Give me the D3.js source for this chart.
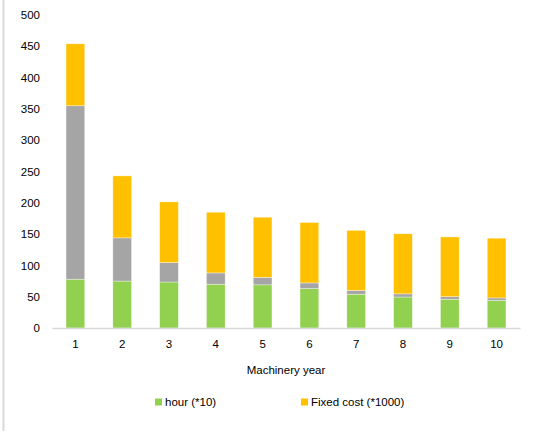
<!DOCTYPE html>
<html>
<head>
<meta charset="utf-8">
<script src="https://cdn.jsdelivr.net/npm/d3@7"></script>
<style>
  html, body { margin: 0; padding: 0; background: #fff; }
  svg { display: block; font-family: "Liberation Sans", Arial, sans-serif; }
</style>
</head>
<body>
<svg id="chart" width="547" height="434"></svg>
<script>
// Machinery cost breakdown by machine age
const years = ["1", "2", "3", "4", "5", "6", "7", "8", "9", "10"];
const hours = [78, 75, 73.5, 70, 69, 63, 54, 49.5, 46, 44];          // hour (*10)
const repair = [277, 69, 31, 18, 12, 9, 6, 5, 4, 4];                   // unlabelled middle series
const fixedCost = [99, 99, 97, 97, 96, 96.5, 96, 96, 95.5, 95.5];      // Fixed cost (*1000)
const yTicks = [0, 50, 100, 150, 200, 250, 300, 350, 400, 450, 500];

const seriesKeys = ["hours", "repair", "fixed"];
const colors = { hours: "#92d050", repair: "#a5a5a5", fixed: "#ffc000" };
const legendItems = [
  { key: "hours", label: "hour (*10)" },
  { key: "fixed", label: "Fixed cost (*1000)" }
];

const rows = years.map((y, i) => ({ year: y, hours: hours[i], repair: repair[i], fixed: fixedCost[i] }));
const stacked = d3.stack().keys(seriesKeys)(rows);

const svg = d3.select("#chart");
const margin = { left: 52, right: 27, top: 15, bottom: 106 };
const W = 547, H = 434;

const x = d3.scaleBand()
  .domain(years)
  .range([margin.left, W - margin.right])
  .paddingInner(0.6)
  .paddingOuter(0.3);

const y = d3.scaleLinear()
  .domain([0, 500])
  .range([H - margin.bottom, margin.top]);

// chart frame edge on the left
svg.append("line")
  .attr("x1", 3.5).attr("x2", 3.5)
  .attr("y1", 0).attr("y2", 431)
  .attr("stroke", "#d9d9d9").attr("stroke-width", 2);

// bars
svg.append("g")
  .selectAll("g")
  .data(stacked)
  .join("g")
  .attr("fill", d => colors[d.key])
  .selectAll("rect")
  .data(d => d)
  .join("rect")
  .attr("x", d => x(d.data.year))
  .attr("width", x.bandwidth())
  .attr("y", d => y(d[1]))
  .attr("height", d => y(d[0]) - y(d[1]))
  .attr("stroke", "#fff")
  .attr("stroke-opacity", 0.6)
  .attr("stroke-width", 0.6);

// y axis labels (no axis line)
const yAxis = d3.axisLeft(y).tickValues(yTicks).tickSize(0).tickPadding(0);
svg.append("g")
  .attr("transform", `translate(${margin.left - 12},0)`)
  .call(yAxis)
  .call(g => g.select(".domain").remove())
  .call(g => g.selectAll("text")
    .attr("font-size", 11.5)
    .attr("font-family", "Liberation Sans, Arial, sans-serif")
    .attr("fill", "#000"));

// x axis
const xAxis = d3.axisBottom(x).tickSize(0).tickPadding(12);
svg.append("g")
  .attr("transform", `translate(0,${y(0)})`)
  .call(xAxis)
  .call(g => g.select(".domain")
    .attr("stroke", "#d9d9d9")
    .attr("stroke-width", 1.5))
  .call(g => g.selectAll("text")
    .attr("font-size", 11.5)
    .attr("font-family", "Liberation Sans, Arial, sans-serif")
    .attr("fill", "#000"));

// x axis title
svg.append("text")
  .attr("x", (margin.left + W - margin.right) / 2)
  .attr("y", 374)
  .attr("text-anchor", "middle")
  .attr("font-size", 11.5)
  .attr("fill", "#000")
  .text("Machinery year");

// legend
const legendX = [155, 301];
const legend = svg.append("g");
legendItems.forEach((item, i) => {
  legend.append("rect")
    .attr("x", legendX[i]).attr("y", 398.5)
    .attr("width", 7).attr("height", 7)
    .attr("fill", colors[item.key]);
  legend.append("text")
    .attr("x", legendX[i] + 10).attr("y", 406)
    .attr("font-size", 11.5)
    .attr("fill", "#000")
    .text(item.label);
});
</script>
</body>
</html>
